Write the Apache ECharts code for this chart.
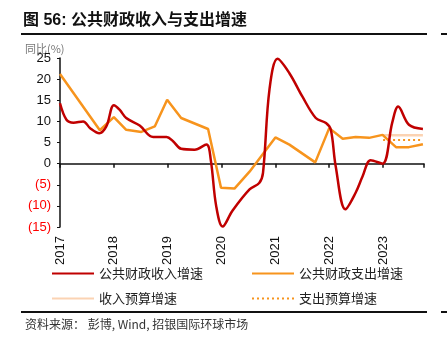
<!DOCTYPE html>
<html>
<head>
<meta charset="utf-8">
<script src="https://cdn.jsdelivr.net/npm/echarts@6/dist/echarts.min.js"></script>
<style>
  html, body { margin: 0; padding: 0; background: #fff; }
  #chart { width: 447px; height: 350px; }
</style>
</head>
<body>
<div id="chart"></div>
<script>
// 公共财政收入增速 (累计同比, %) —— [年份小数, 数值]
const revenueX = [2017.0, 2017.12, 2017.25, 2017.43, 2017.56, 2017.73, 2017.86, 2018.0, 2018.11, 2018.23, 2018.48, 2018.73, 2018.98, 2019.1, 2019.25, 2019.5, 2019.72, 2019.8, 2019.9, 2020.02, 2020.2, 2020.52, 2020.7, 2020.77, 2020.89, 2021.04, 2021.26, 2021.5, 2021.75, 2021.94, 2022.03, 2022.12, 2022.3, 2022.49, 2022.62, 2022.77, 2022.99, 2023.17, 2023.28, 2023.48, 2023.74];
const revenueY = [14.3, 10.4, 9.7, 10.0, 8.4, 7.2, 8.8, 13.8, 12.7, 10.8, 9.0, 6.3, 6.3, 5.3, 3.5, 3.3, 4.5, 0.9, -10.0, -14.9, -11.2, -6.1, -4.6, -2.2, 17.5, 24.8, 21.4, 15.9, 10.8, 9.6, 8.0, -0.6, -10.8, -6.9, -3.0, 0.8, 0.0, 9.7, 13.5, 9.2, 8.2];

// 公共财政支出增速
const spendX = [2017.0, 2017.74, 2018.0, 2018.23, 2018.51, 2018.76, 2018.99, 2019.25, 2019.75, 2019.99, 2020.24, 2020.52, 2021.0, 2021.26, 2021.74, 2022.0, 2022.25, 2022.49, 2022.74, 2022.99, 2023.24, 2023.48, 2023.74];
const spendY = [21.2, 7.9, 11.0, 8.0, 7.5, 8.8, 15.1, 10.8, 8.2, -5.7, -5.9, -1.9, 6.2, 4.5, 0.3, 8.4, 5.9, 6.3, 6.1, 6.8, 3.9, 3.9, 4.6];

// 预算增速
const budgetX = [2023.0, 2023.74];
const revenueBudget = [6.7, 6.7];
const spendBudget = [5.6, 5.6];

const yearTicks = [2017, 2018, 2019, 2020, 2021, 2022, 2023];
const names = ['公共财政收入增速', '公共财政支出增速', '收入预算增速', '支出预算增速'];

function pairs(xs, ys) {
  return xs.map((x, i) => [x, ys[i]]);
}

const FONT = 'Liberation Sans, Arial, Noto Sans CJK SC, sans-serif';
const CJK = 'Noto Sans CJK SC, sans-serif';
const RED = '#c00000';
const ORANGE = '#f7941d';
const PEACH = '#fbd3b3';

const chart = echarts.init(document.getElementById('chart'));

// 每个图例单独放，对齐成两行两列
function legendAt(name, left, top) {
  return {
    data: [name],
    left: left,
    top: top,
    padding: 0,
    itemWidth: 42,
    itemHeight: 14,
    itemGap: 5,
    selectedMode: false,
    itemStyle: { opacity: 0 },
    textStyle: { fontFamily: CJK, fontSize: 13, color: '#222' }
  };
}

const option = {
  animation: false,
  backgroundColor: '#fff',
  grid: { left: 60, right: 23, top: 58, bottom: 123 },
  graphic: [
    { type: 'text', left: 23, top: 13, style: { text: '图 56: 公共财政收入与支出增速', fontFamily: FONT, fontWeight: 'bold', fontSize: 16, fill: '#111' } },
    { type: 'rect', shape: { x: 21, y: 33, width: 406, height: 2 }, style: { fill: '#111' } },
    { type: 'rect', shape: { x: 441, y: 33, width: 6, height: 2 }, style: { fill: '#111' } },
    { type: 'text', left: 25, top: 43, style: { text: '同比(%)', fontFamily: CJK, fontSize: 11, fill: '#777' } },
    { type: 'rect', shape: { x: 21, y: 311, width: 406, height: 2 }, style: { fill: '#111' } },
    { type: 'rect', shape: { x: 441, y: 311, width: 6, height: 2 }, style: { fill: '#111' } },
    { type: 'text', left: 25, top: 318, style: { text: '资料来源： 彭博, Wind, 招银国际环球市场', fontFamily: CJK, fontSize: 12, fill: '#333' } }
  ],
  legend: [
    legendAt(names[0], 51, 267),
    legendAt(names[1], 251, 267),
    legendAt(names[2], 51, 292),
    legendAt(names[3], 251, 292)
  ],
  xAxis: [
    {
      type: 'value',
      min: 2017,
      max: 2023.76,
      interval: 1,
      position: 'bottom',
      axisLine: { show: false, onZero: false },
      axisTick: { show: false },
      splitLine: { show: false },
      axisLabel: {
        rotate: 90,
        margin: 9,
        fontFamily: FONT,
        fontSize: 13,
        color: '#111',
        formatter: v => (yearTicks.indexOf(v) >= 0 ? String(v) : '')
      }
    },
    {
      type: 'value',
      min: 2017,
      max: 2023.76,
      interval: 1,
      position: 'top',
      axisLine: { show: true, onZero: true, lineStyle: { color: '#111', width: 1.5 } },
      axisTick: { show: true, inside: true, length: 4, lineStyle: { color: '#111', width: 1.5 } },
      axisLabel: { show: false },
      splitLine: { show: false }
    }
  ],
  yAxis: {
    type: 'value',
    min: -15,
    max: 25,
    interval: 5,
    axisLine: { show: true, onZero: false, lineStyle: { color: '#111', width: 1.5 } },
    axisTick: { show: true, length: 3, lineStyle: { color: '#111' } },
    splitLine: { show: false },
    axisLabel: {
      margin: 9,
      fontFamily: FONT,
      fontSize: 13,
      color: v => (v < 0 ? '#ff0000' : '#111'),
      formatter: v => (v < 0 ? '(' + (-v) + ')' : String(v))
    }
  },
  series: [
    {
      name: names[0],
      type: 'line',
      data: pairs(revenueX, revenueY),
      smooth: 0.35,
      symbol: 'none',
      lineStyle: { color: RED, width: 2.5 },
      itemStyle: { color: RED },
      z: 4
    },
    {
      name: names[1],
      type: 'line',
      data: pairs(spendX, spendY),
      symbol: 'none',
      lineStyle: { color: ORANGE, width: 2.5 },
      itemStyle: { color: ORANGE },
      z: 3
    },
    {
      name: names[2],
      type: 'line',
      data: pairs(budgetX, revenueBudget),
      symbol: 'none',
      lineStyle: { color: PEACH, width: 2.5 },
      itemStyle: { color: PEACH },
      z: 2
    },
    {
      name: names[3],
      type: 'line',
      data: pairs(budgetX, spendBudget),
      symbol: 'none',
      lineStyle: { color: ORANGE, width: 2, type: [2, 3] },
      itemStyle: { color: ORANGE },
      z: 2
    }
  ]
};

chart.setOption(option);
</script>
</body>
</html>
